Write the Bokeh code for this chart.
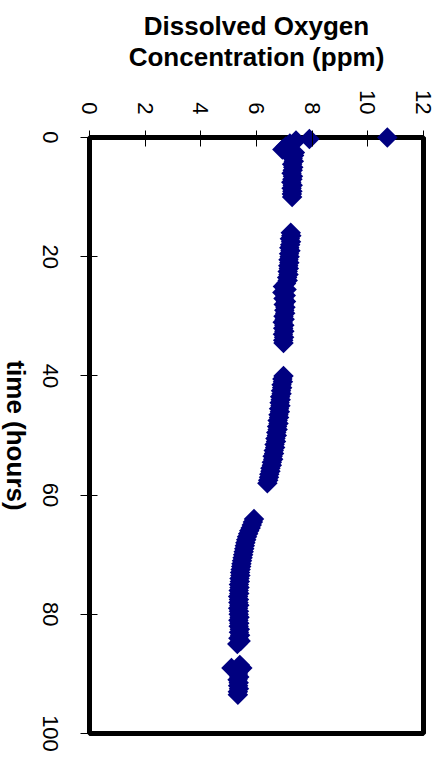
import math
from bokeh.plotting import figure
from bokeh.models import (Range1d, FixedTicker, ColumnDataSource, BoxAnnotation,
                          LinearAxis, Label)
from bokeh.embed import file_html
from bokeh.resources import INLINE

# ---- data ----
seg0_time = [0.0, 0.25, 0.5, 1.0, 1.5, 2.0]
seg0_do = [10.7, 7.9, 7.42, 7.2, 7.05, 6.93]

seg1_time = [2.5, 3.0, 3.5, 4.0, 4.5, 5.0, 5.5, 6.0, 6.5, 7.0, 7.5, 8.0, 8.5, 9.0, 9.5, 10.0]
seg1_do = [7.38, 7.35, 7.3, 7.34, 7.28, 7.32, 7.3, 7.26, 7.31, 7.29, 7.25, 7.3, 7.26, 7.29, 7.27, 7.28]

seg2_time = [16.0, 16.5, 17.0, 17.5, 18.0, 18.5, 19.0, 19.5, 20.0, 20.5, 21.0, 21.5, 22.0, 22.5,
             23.0, 23.5, 24.0, 24.5, 25.0, 25.5, 26.0, 26.5, 27.0, 27.5, 28.0, 28.5, 29.0, 29.5,
             30.0, 30.5, 31.0, 31.5, 32.0, 32.5, 33.0, 33.5, 34.0, 34.5]
seg2_do = [7.23, 7.25, 7.2, 7.24, 7.21, 7.18, 7.22, 7.17, 7.19, 7.15, 7.18, 7.14, 7.16, 7.12,
           7.15, 7.1, 7.12, 7.06, 6.95, 7.08, 6.93, 7.05, 6.97, 7.06, 6.98, 7.04, 7.0, 7.03,
           6.97, 7.01, 6.94, 7.0, 6.96, 7.0, 6.95, 6.99, 6.96, 6.97]

seg3_time = [40.0, 40.5, 41.0, 41.5, 42.0, 42.5, 43.0, 43.5, 44.0, 44.5, 45.0, 45.5, 46.0, 46.5,
             47.0, 47.5, 48.0, 48.5, 49.0, 49.5, 50.0, 50.5, 51.0, 51.5, 52.0, 52.5, 53.0, 53.5,
             54.0, 54.5, 55.0, 55.5, 56.0, 56.5, 57.0, 57.5, 58.0]
seg3_do = [6.97, 6.93, 6.95, 6.9, 6.92, 6.88, 6.9, 6.85, 6.87, 6.83, 6.86, 6.81, 6.84, 6.79,
           6.81, 6.76, 6.79, 6.74, 6.76, 6.71, 6.73, 6.68, 6.7, 6.65, 6.67, 6.62, 6.63, 6.58,
           6.6, 6.55, 6.55, 6.5, 6.5, 6.46, 6.45, 6.42, 6.39]

seg4_time = [64.0, 64.5, 65.0, 65.5, 66.0, 66.5, 67.0, 67.5, 68.0, 68.5, 69.0, 69.5, 70.0, 70.5,
             71.0, 71.5, 72.0, 72.5, 73.0, 73.5, 74.0, 74.5, 75.0, 75.5, 76.0, 76.5, 77.0, 77.5,
             78.0, 78.5, 79.0, 79.5, 80.0, 80.5, 81.0, 81.5, 82.0, 82.5, 83.0, 83.5, 84.0, 84.5, 85.0]
seg4_do = [5.91, 5.87, 5.83, 5.79, 5.74, 5.7, 5.66, 5.63, 5.6, 5.58, 5.56, 5.54, 5.52, 5.5,
           5.48, 5.46, 5.45, 5.43, 5.41, 5.42, 5.39, 5.4, 5.37, 5.39, 5.36, 5.38, 5.34, 5.37,
           5.35, 5.38, 5.34, 5.37, 5.36, 5.39, 5.35, 5.38, 5.36, 5.4, 5.37, 5.41, 5.35, 5.43, 5.31]

seg5_time = [88.5, 89.0, 89.0, 89.5, 90.0, 90.5, 91.0, 91.5, 92.0, 92.5, 93.0, 93.5]
seg5_do = [5.4, 5.10, 5.49, 5.36, 5.33, 5.38, 5.32, 5.36, 5.34, 5.37, 5.33, 5.33]

do_ticks = [0, 2, 4, 6, 8, 10, 12]
time_ticks = [0, 20, 40, 60, 80, 100]
time_min, time_max = 0, 100
do_min, do_max = 0, 12

times = seg0_time + seg1_time + seg2_time + seg3_time + seg4_time + seg5_time
dos = seg0_do + seg1_do + seg2_do + seg3_do + seg4_do + seg5_do
src = ColumnDataSource(data=dict(t=times, do=dos))

# ---- layout ----
FONT = "Liberation Sans"
TICK_PX = 22
BOX_W, BOX_H = 334, 596            # data box in px (DO across, time down)
PAD_L, PAD_R, PAD_T, PAD_B = 4, 4, 12, 20
PX_D = BOX_W / (do_max - do_min)
PX_T = BOX_H / (time_max - time_min)

p = figure(frame_width=BOX_W + PAD_L + PAD_R, frame_height=BOX_H + PAD_T + PAD_B,
           output_backend="svg", toolbar_location=None,
           x_range=Range1d(do_min - PAD_L / PX_D, do_max + PAD_R / PX_D),
           y_range=Range1d(time_max + PAD_B / PX_T, time_min - PAD_T / PX_T),
           x_axis_location="above", y_axis_location="left",
           min_border_left=85, min_border_right=9, min_border_top=125, min_border_bottom=5)

p.grid.visible = False
p.outline_line_color = None
p.background_fill_color = "white"
p.border_fill_color = "white"

box = BoxAnnotation(left=do_min, right=do_max, top=time_min, bottom=time_max,
                    fill_alpha=0, line_color="black", line_width=5, line_alpha=1.0,
                    level="underlay")
p.add_layout(box)

# DO axis on top (its ticks reach down to the box's top edge)
xa = p.xaxis[0]
xa.ticker = FixedTicker(ticks=do_ticks)
xa.major_label_orientation = -math.pi / 2
xa.major_label_text_font = FONT
xa.major_label_text_font_size = "%dpx" % TICK_PX
xa.major_label_text_color = "black"
xa.major_label_standoff = 11
xa.major_tick_in = PAD_T + 9
xa.major_tick_out = 7 - PAD_T
xa.major_tick_line_color = "black"
xa.minor_tick_line_color = None
xa.axis_line_color = None
xa.axis_label = "Dissolved Oxygen\nConcentration (ppm)"
xa.axis_label_text_font = FONT
xa.axis_label_text_font_style = "bold"
xa.axis_label_text_font_size = "26px"
xa.axis_label_text_color = "black"
xa.axis_label_text_line_height = 1.03
xa.axis_label_standoff = 15

# time axis on the left: ticks only
ya = p.yaxis[0]
ya.ticker = FixedTicker(ticks=time_ticks)
ya.major_tick_in = PAD_L + 8
ya.major_tick_out = 9 - PAD_L
ya.major_tick_line_color = "black"
ya.minor_tick_line_color = None
ya.axis_line_color = None
ya.major_label_text_alpha = 0
ya.major_label_text_font_size = "1px"
ya.major_label_standoff = 0

# time tick labels, turned a quarter clockwise and centred on their ticks
half_len = {t: len(str(t)) * 0.556 * TICK_PX / 2 / PX_T for t in time_ticks}
label_pos = [t + half_len[t] for t in time_ticks]
lab_axis = LinearAxis(ticker=FixedTicker(ticks=label_pos),
                      major_label_overrides={pos: str(t) for pos, t in zip(label_pos, time_ticks)},
                      major_label_orientation=-math.pi / 2,
                      major_label_text_font=FONT,
                      major_label_text_font_size="%dpx" % TICK_PX,
                      major_label_text_color="black",
                      major_label_standoff=30,
                      major_tick_in=0, major_tick_out=0,
                      major_tick_line_color=None, minor_tick_line_color=None,
                      axis_line_color=None)
p.add_layout(lab_axis, "left")

# time axis title, reading downwards (kept in the side panel so it is not clipped)
p.add_layout(Label(x=do_min - (89 - 15) / PX_D, y=(time_min + time_max) / 2,
                   text="time (hours)", angle=-math.pi / 2,
                   text_align="center", text_baseline="middle",
                   text_font=FONT, text_font_style="bold", text_font_size="26px",
                   text_color="black"), "left")

p.scatter(x="do", y="t", source=src, marker="square", angle=math.pi / 4, size=14.5,
          fill_color="#000080", line_color=None)

open("out.html", "w").write(file_html(p, INLINE))
